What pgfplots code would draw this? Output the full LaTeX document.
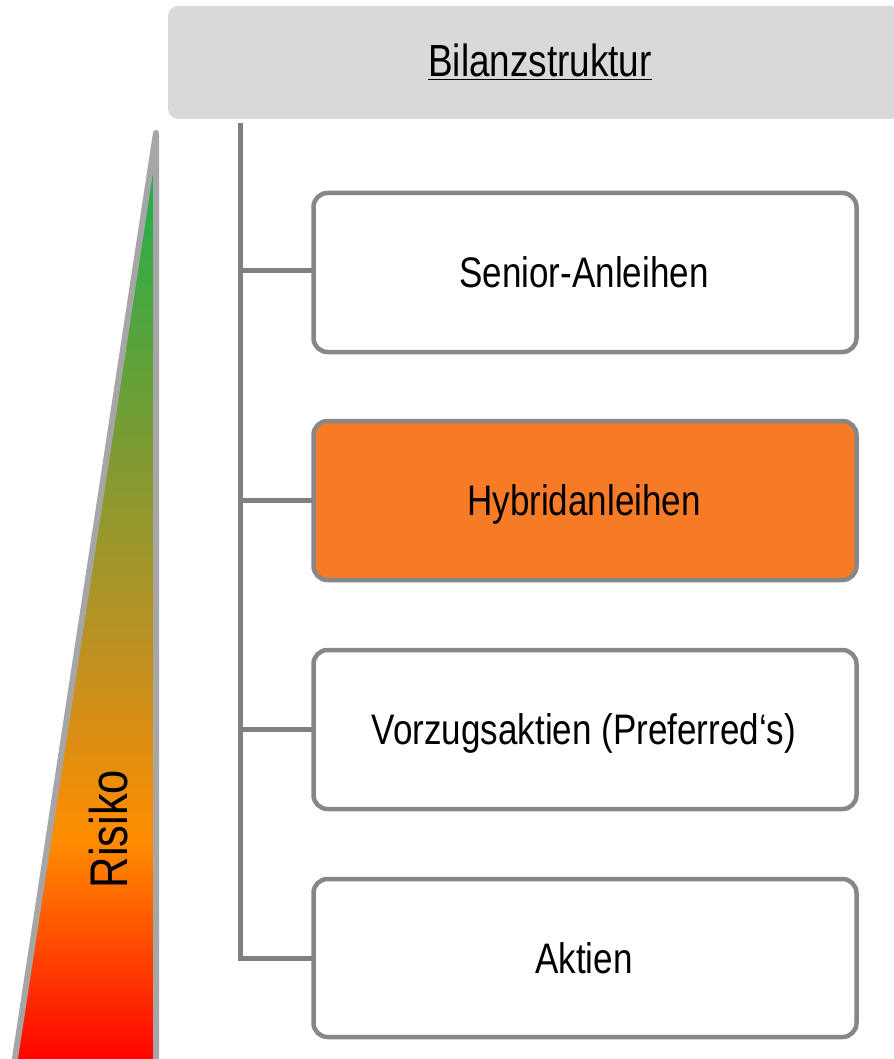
\documentclass[border=0pt]{standalone}
\usepackage{pgfplots}
\pgfplotsset{compat=1.18}
\usepackage{fontspec}
\setmainfont{Liberation Sans}[FakeStretch=0.82]
\definecolor{hdr}{HTML}{D9D9D9}
\definecolor{boxline}{HTML}{878787}
\definecolor{conn}{HTML}{808080}
\definecolor{tri}{HTML}{A6A6A6}
\definecolor{hyb}{HTML}{F77B27}
\definecolor{cred}{RGB}{255,0,0}
\definecolor{cred2}{RGB}{255,40,0}
\definecolor{corange}{RGB}{255,140,0}
\definecolor{colive}{RGB}{190,145,35}
\definecolor{colive2}{RGB}{125,155,50}
\definecolor{cgreen}{RGB}{30,177,75}
\pgfdeclareverticalshading{risk}{100bp}{color(0bp)=(cred); color(25bp)=(cred); color(28.5bp)=(cred2); color(37bp)=(corange); color(47.3bp)=(colive); color(58bp)=(colive2); color(73bp)=(cgreen); color(100bp)=(cgreen)}
\begin{document}
\begin{tikzpicture}
\begin{axis}[
  scale only axis, width=894bp, height=1059bp,
  xmin=0, xmax=894, ymin=0, ymax=1059, y dir=reverse,
  hide axis,
]
% header
\addplot[fill=hdr, draw=none, rounded corners=10bp] coordinates {(168,6) (900,6) (900,119) (168,119)} -- cycle;
% triangle
\addplot[shading=risk, draw=tri, line width=6bp, line join=round] coordinates {(156,133) (156,1065) (14,1065)} -- cycle;
% connector
\addplot[draw=conn, line width=5bp, line cap=butt] coordinates {(240,123) (240,958) (313,958)};
\addplot[draw=conn, line width=5bp] coordinates {(240,270) (313,270)};
\addplot[draw=conn, line width=5bp] coordinates {(240,500) (313,500)};
\addplot[draw=conn, line width=5bp] coordinates {(240,729) (313,729)};
% boxes
\addplot[fill=white, draw=boxline, line width=4.5bp, rounded corners=14bp] coordinates {(313.5,193) (856.5,193) (856.5,352) (313.5,352)} -- cycle;
\addplot[fill=hyb, draw=boxline, line width=4.5bp, rounded corners=14bp] coordinates {(313.5,421) (856.5,421) (856.5,580) (313.5,580)} -- cycle;
\addplot[fill=white, draw=boxline, line width=4.5bp, rounded corners=14bp] coordinates {(313.5,650) (856.5,650) (856.5,809) (313.5,809)} -- cycle;
\addplot[fill=white, draw=boxline, line width=4.5bp, rounded corners=14bp] coordinates {(313.5,879) (856.5,879) (856.5,1037) (313.5,1037)} -- cycle;
% texts
\node[anchor=base, font=\fontsize{45bp}{52bp}\selectfont] at (axis cs:540,77) {\underline{Bilanzstruktur}};
\node[anchor=base, font=\fontsize{42.7bp}{50bp}\selectfont] at (axis cs:584,287) {Senior-Anleihen};
\node[anchor=base, font=\fontsize{42.7bp}{50bp}\selectfont] at (axis cs:584,515) {Hybridanleihen};
\node[anchor=base, font=\fontsize{42.7bp}{50bp}\selectfont] at (axis cs:584,744) {Vorzugsaktien (Preferred‘s)};
\node[anchor=base, font=\fontsize{42.7bp}{50bp}\selectfont] at (axis cs:584,973) {Aktien};
\node[anchor=base, rotate=90, font=\fontsize{53bp}{60bp}\selectfont] at (axis cs:127,829) {Risiko};
\end{axis}
\pgfresetboundingbox
\useasboundingbox (current axis.south west) rectangle (current axis.north east);
\end{tikzpicture}
\end{document}
